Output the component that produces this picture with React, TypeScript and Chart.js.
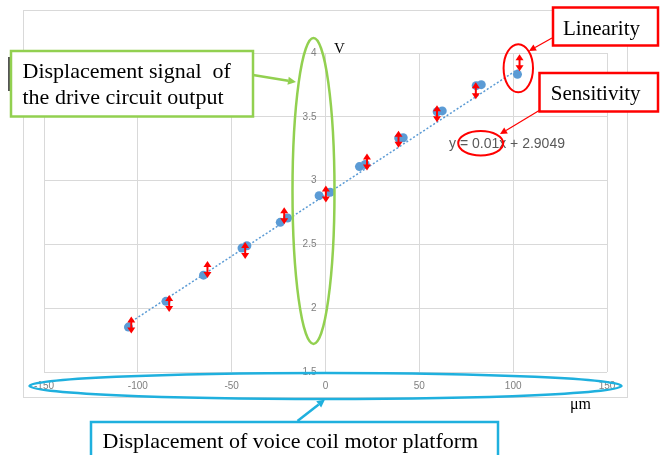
import React, { useEffect, useRef } from "react";
import { Chart, registerables } from "chart.js";

Chart.register(...registerables);

// ---- data ----
const pointX = [-105, -85, -65, -44.5, -41.9, -24.1, -20.2, -3.4, 2.5, 18.1, 21.2, 39.0, 41.4, 59.5, 62.2, 80.3, 83.0, 102.3];
const pointY = [1.852, 2.054, 2.259, 2.471, 2.489, 2.673, 2.707, 2.882, 2.909, 3.11, 3.126, 3.333, 3.336, 3.54, 3.546, 3.744, 3.752, 3.833];
const trendX = [-105, 102.3];
const trendY = [1.88, 3.87];
const arrowX = [-103.5, -83.3, -62.9, -42.8, -22.0, 0.2, 22.1, 38.9, 59.4, 80.1, 103.4];
const arrowY = [1.869, 2.036, 2.303, 2.453, 2.725, 2.895, 3.145, 3.325, 3.524, 3.705, 3.923];
const xTicks = [-150, -100, -50, 0, 50, 100, 150];
const yTicks = [1.5, 2, 2.5, 3, 3.5, 4];
const equationText = "y = 0.01x + 2.9049";
const yUnit = "V";
const xUnit = "\u03bcm";
const signalLines = ["Displacement signal  of", "the drive circuit output"];
const platformLabel = "Displacement of voice coil motor platform";
const linearityLabel = "Linearity";
const sensitivityLabel = "Sensitivity";

const GREEN = "#92d050";
const CYAN = "#1fb0de";
const RED = "#ff0000";
const SERIF = "'Liberation Serif', 'Times New Roman', serif";
const SANS = "'Liberation Sans', Arial, sans-serif";

function arrowLine(ctx: CanvasRenderingContext2D, x1: number, y1: number, x2: number, y2: number, color: string, lw: number, headLen: number, headW: number) {
  const ang = Math.atan2(y2 - y1, x2 - x1);
  const bx = x2 - Math.cos(ang) * headLen;
  const by = y2 - Math.sin(ang) * headLen;
  ctx.save();
  ctx.strokeStyle = color;
  ctx.fillStyle = color;
  ctx.lineWidth = lw;
  ctx.beginPath();
  ctx.moveTo(x1, y1);
  ctx.lineTo(bx, by);
  ctx.stroke();
  ctx.beginPath();
  ctx.moveTo(x2, y2);
  ctx.lineTo(bx + Math.sin(ang) * headW, by - Math.cos(ang) * headW);
  ctx.lineTo(bx - Math.sin(ang) * headW, by + Math.cos(ang) * headW);
  ctx.closePath();
  ctx.fill();
  ctx.restore();
}

function ellipse(ctx: CanvasRenderingContext2D, cx: number, cy: number, rx: number, ry: number, color: string, lw: number) {
  ctx.save();
  ctx.strokeStyle = color;
  ctx.lineWidth = lw;
  ctx.beginPath();
  ctx.ellipse(cx, cy, rx, ry, 0, 0, Math.PI * 2);
  ctx.stroke();
  ctx.restore();
}

function box(ctx: CanvasRenderingContext2D, x1: number, y1: number, x2: number, y2: number, color: string, lw: number) {
  ctx.save();
  ctx.fillStyle = "#ffffff";
  ctx.fillRect(x1, y1, x2 - x1, y2 - y1);
  ctx.strokeStyle = color;
  ctx.lineWidth = lw;
  ctx.strokeRect(x1, y1, x2 - x1, y2 - y1);
  ctx.restore();
}

const framePlugin = {
  id: "frame",
  beforeDraw(chart: any) {
    const ctx = chart.ctx as CanvasRenderingContext2D;
    ctx.save();
    ctx.fillStyle = "#ffffff";
    ctx.fillRect(0, 0, chart.width, chart.height);
    ctx.strokeStyle = "#d9d9d9";
    ctx.lineWidth = 1;
    ctx.strokeRect(23.5, 10.5, 604, 387);
    ctx.restore();
  },
};

const annotationPlugin = {
  id: "annotations",
  afterDraw(chart: any) {
    const ctx = chart.ctx as CanvasRenderingContext2D;
    const xs = chart.scales.x;
    const ys = chart.scales.y;

    // y tick labels next to the x = 0 axis (Excel style crossing axis)
    ctx.save();
    ctx.font = `10px ${SANS}`;
    ctx.fillStyle = "#7f7f7f";
    ctx.textAlign = "right";
    ctx.textBaseline = "middle";
    const axisX = xs.getPixelForValue(0);
    for (const v of yTicks) {
      ctx.fillText(String(v), axisX - 9, ys.getPixelForValue(v));
    }
    ctx.restore();

    // red double-headed arrows at the measurement points
    ctx.save();
    ctx.strokeStyle = RED;
    ctx.fillStyle = RED;
    ctx.lineWidth = 2;
    for (let i = 0; i < arrowX.length; i++) {
      const cx = xs.getPixelForValue(arrowX[i]);
      const cy = ys.getPixelForValue(arrowY[i]);
      const h = 8.5;
      const hl = 6;
      const hw = 4;
      ctx.beginPath();
      ctx.moveTo(cx, cy - h + hl - 1);
      ctx.lineTo(cx, cy + h - hl + 1);
      ctx.stroke();
      ctx.beginPath();
      ctx.moveTo(cx, cy - h);
      ctx.lineTo(cx - hw, cy - h + hl);
      ctx.lineTo(cx + hw, cy - h + hl);
      ctx.closePath();
      ctx.fill();
      ctx.beginPath();
      ctx.moveTo(cx, cy + h);
      ctx.lineTo(cx - hw, cy + h - hl);
      ctx.lineTo(cx + hw, cy + h - hl);
      ctx.closePath();
      ctx.fill();
    }
    ctx.restore();

    // equation text
    ctx.save();
    ctx.font = `14px ${SANS}`;
    ctx.fillStyle = "#595959";
    ctx.textBaseline = "alphabetic";
    ctx.fillText(equationText, 449, 148);
    ctx.restore();

    // unit labels
    ctx.save();
    ctx.fillStyle = "#000000";
    ctx.font = `15px ${SERIF}`;
    ctx.fillText(yUnit, 334, 53);
    ctx.font = `16px ${SERIF}`;
    ctx.fillText(xUnit, 570, 409);
    ctx.restore();

    // green ellipse + callout
    ellipse(ctx, 313.5, 191, 21, 153, GREEN, 2.5);
    ctx.save();
    ctx.fillStyle = "#555555";
    ctx.fillRect(8, 57, 2, 34);
    ctx.restore();
    box(ctx, 11, 51, 253, 116.5, GREEN, 2.5);
    arrowLine(ctx, 253, 75, 296, 82, GREEN, 2.5, 8, 4);
    ctx.save();
    ctx.fillStyle = "#000000";
    ctx.font = `22px ${SERIF}`;
    ctx.fillText(signalLines[0], 22.5, 78);
    ctx.fillText(signalLines[1], 22.5, 104);
    ctx.restore();

    // blue ellipse + callout
    ellipse(ctx, 325.5, 386, 296, 13, CYAN, 2.5);
    arrowLine(ctx, 297.5, 421, 325, 399.5, CYAN, 2.5, 8, 4);
    box(ctx, 91, 422, 498, 470, CYAN, 2.5);
    ctx.save();
    ctx.fillStyle = "#000000";
    ctx.font = `22px ${SERIF}`;
    ctx.fillText(platformLabel, 102.5, 448);
    ctx.restore();

    // red callouts
    ellipse(ctx, 518.3, 68.3, 14.7, 24, RED, 2);
    ellipse(ctx, 480.7, 143.3, 22.5, 12.3, RED, 2);
    arrowLine(ctx, 552, 38, 529, 51, RED, 1.2, 7, 3.5);
    arrowLine(ctx, 540, 110, 500, 134, RED, 1.2, 7, 3.5);
    box(ctx, 553, 7.5, 658, 45.5, RED, 2.5);
    box(ctx, 539.5, 73, 658, 111.5, RED, 2.5);
    ctx.save();
    ctx.fillStyle = "#000000";
    ctx.font = `21px ${SERIF}`;
    ctx.textAlign = "center";
    ctx.fillText(linearityLabel, 601.5, 35);
    ctx.fillText(sensitivityLabel, 595.7, 99.5);
    ctx.restore();
  },
};

export default function App() {
  const canvasRef = useRef<HTMLCanvasElement | null>(null);

  useEffect(() => {
    const canvas = canvasRef.current;
    if (!canvas) return;
    const chart = new Chart(canvas, {
      type: "scatter",
      data: {
        datasets: [
          {
            label: "Trend",
            type: "line",
            data: trendX.map((x, i) => ({ x, y: trendY[i] })),
            borderColor: "#5b9bd5",
            borderWidth: 1.5,
            borderDash: [2, 2],
            pointRadius: 0,
            fill: false,
            order: 2,
          } as any,
          {
            label: "Output",
            data: pointX.map((x, i) => ({ x, y: pointY[i] })),
            backgroundColor: "#5b9bd5",
            borderColor: "#5b9bd5",
            pointRadius: 4.5,
            pointBorderWidth: 0,
            order: 1,
          },
        ],
      },
      options: {
        responsive: false,
        animation: false,
        devicePixelRatio: 1,
        layout: { padding: { left: 44, right: 60, top: 53, bottom: 63 } },
        plugins: {
          legend: { display: false },
          tooltip: { enabled: false },
        },
        scales: {
          x: {
            type: "linear",
            position: "bottom",
            min: -150,
            max: 150,
            afterBuildTicks: (s: any) => {
              s.ticks = xTicks.map((v) => ({ value: v }));
            },
            afterFit: (s: any) => {
              s.height = 20;
            },
            grid: { color: "#d9d9d9", lineWidth: 1, drawTicks: false },
            border: { display: false },
            ticks: {
              color: "#7f7f7f",
              font: { family: SANS, size: 10 },
              padding: 8,
              maxRotation: 0,
              autoSkip: false,
              callback: (v: any) => String(v),
            },
          },
          y: {
            type: "linear",
            position: { x: 0 } as any,
            min: 1.5,
            max: 4,
            afterBuildTicks: (s: any) => {
              s.ticks = yTicks.map((v) => ({ value: v }));
            },
            grid: { color: "#d9d9d9", lineWidth: 1, drawTicks: false },
            border: { display: false },
            ticks: { display: false },
          },
        },
      },
      plugins: [framePlugin, annotationPlugin],
    });
    return () => chart.destroy();
  }, []);

  return (
    <div style={{ position: "fixed", left: 0, top: 0, width: 667, height: 455, overflow: "hidden", background: "#fff" }}>
      <canvas ref={canvasRef} width={667} height={455} style={{ display: "block", width: 667, height: 455 }} />
    </div>
  );
}
